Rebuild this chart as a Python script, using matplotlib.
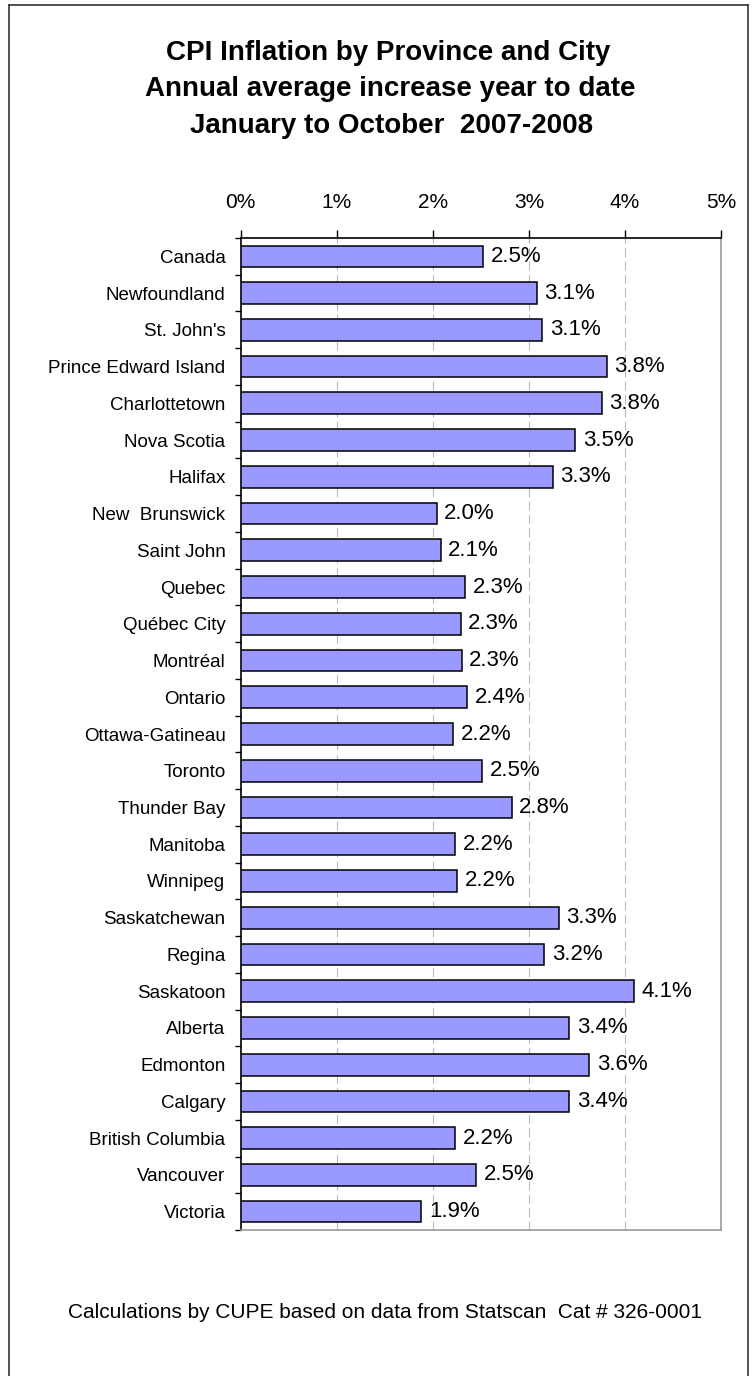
import matplotlib.pyplot as plt
from matplotlib.lines import Line2D
from matplotlib.ticker import FixedLocator

plt.rcParams['font.family'] = ['Liberation Sans', 'DejaVu Sans']

places = ['Canada', 'Newfoundland', "St. John's", 'Prince Edward Island',
          'Charlottetown', 'Nova Scotia', 'Halifax', 'New  Brunswick',
          'Saint John', 'Quebec', 'Québec City', 'Montréal', 'Ontario',
          'Ottawa-Gatineau', 'Toronto', 'Thunder Bay', 'Manitoba', 'Winnipeg',
          'Saskatchewan', 'Regina', 'Saskatoon', 'Alberta', 'Edmonton',
          'Calgary', 'British Columbia', 'Vancouver', 'Victoria']
inflation = [2.52, 3.08, 3.14, 3.81, 3.76, 3.48, 3.25, 2.04, 2.08, 2.34,
             2.29, 2.30, 2.36, 2.21, 2.51, 2.82, 2.23, 2.25, 3.31, 3.16,
             4.09, 3.42, 3.63, 3.42, 2.23, 2.45, 1.88]
value_labels = ['2.5%', '3.1%', '3.1%', '3.8%', '3.8%', '3.5%', '3.3%', '2.0%',
                '2.1%', '2.3%', '2.3%', '2.3%', '2.4%', '2.2%', '2.5%', '2.8%',
                '2.2%', '2.2%', '3.3%', '3.2%', '4.1%', '3.4%', '3.6%', '3.4%',
                '2.2%', '2.5%', '1.9%']
x_ticks = [0, 1, 2, 3, 4, 5]
x_ticklabels = ['0%', '1%', '2%', '3%', '4%', '5%']

W, H = 752, 1376
fig = plt.figure(figsize=(W / 100, H / 100), dpi=100)
ax = fig.add_axes([240.7 / W, 1 - 1230 / H, (721 - 240.7) / W, (1230 - 238) / H])

pos = list(range(len(places)))
ax.barh(pos, inflation, height=0.59, color='#9999FF', edgecolor='black',
        linewidth=1.1, zorder=3)
for y, v, lab in zip(pos, inflation, value_labels):
    ax.annotate(lab, (v, y), xytext=(5.5, 0), textcoords='offset points',
                va='center', ha='left', fontsize=16, zorder=4)

ax.set_xlim(0, 5)
ax.set_ylim(len(places) - 0.5, -0.5)
ax.set_xticks(x_ticks)
ax.set_xticklabels(x_ticklabels, fontsize=15)
ax.xaxis.tick_top()
ax.tick_params(axis='x', direction='out', length=6, width=1, pad=13)
ax.set_yticks(pos)
ax.set_yticklabels(places, fontsize=13.5)
ax.yaxis.set_minor_locator(FixedLocator([p + 0.5 for p in pos] + [-0.5]))
ax.tick_params(axis='y', which='major', length=0, pad=11)
ax.tick_params(axis='y', which='minor', length=4, width=1, direction='out')

for g in x_ticks[1:-1]:
    ax.axvline(g, color='#b8b8b8', linewidth=0.8, linestyle=(0, (8, 4)), zorder=1)

ax.spines['top'].set_color('black')
ax.spines['left'].set_color('black')
ax.spines['right'].set_color('#999999')
ax.spines['bottom'].set_color('#999999')
for s in ax.spines.values():
    s.set_linewidth(1.2)

fig.text(388 / W, 1 - 53 / H, 'CPI Inflation by Province and City',
         ha='center', va='center', fontsize=20, fontweight='bold')
fig.text(390 / W, 1 - 89 / H, 'Annual average increase year to date',
         ha='center', va='center', fontsize=20, fontweight='bold')
fig.text(392 / W, 1 - 126 / H, 'January to October  2007-2008',
         ha='center', va='center', fontsize=20, fontweight='bold')
fig.text(385 / W, 1 - 1313 / H,
         'Calculations by CUPE based on data from Statscan  Cat # 326-0001',
         ha='center', va='center', fontsize=15)

# outer chart border (bottom edge falls outside the picture)
for xs, ys in [([9, 9], [1376, 5]), ([9, 748], [5, 5]), ([748, 748], [5, 1376])]:
    fig.add_artist(Line2D([x / W for x in xs], [1 - y / H for y in ys],
                          color='#333333', linewidth=1.2))

fig.savefig('out.png', dpi=100)
